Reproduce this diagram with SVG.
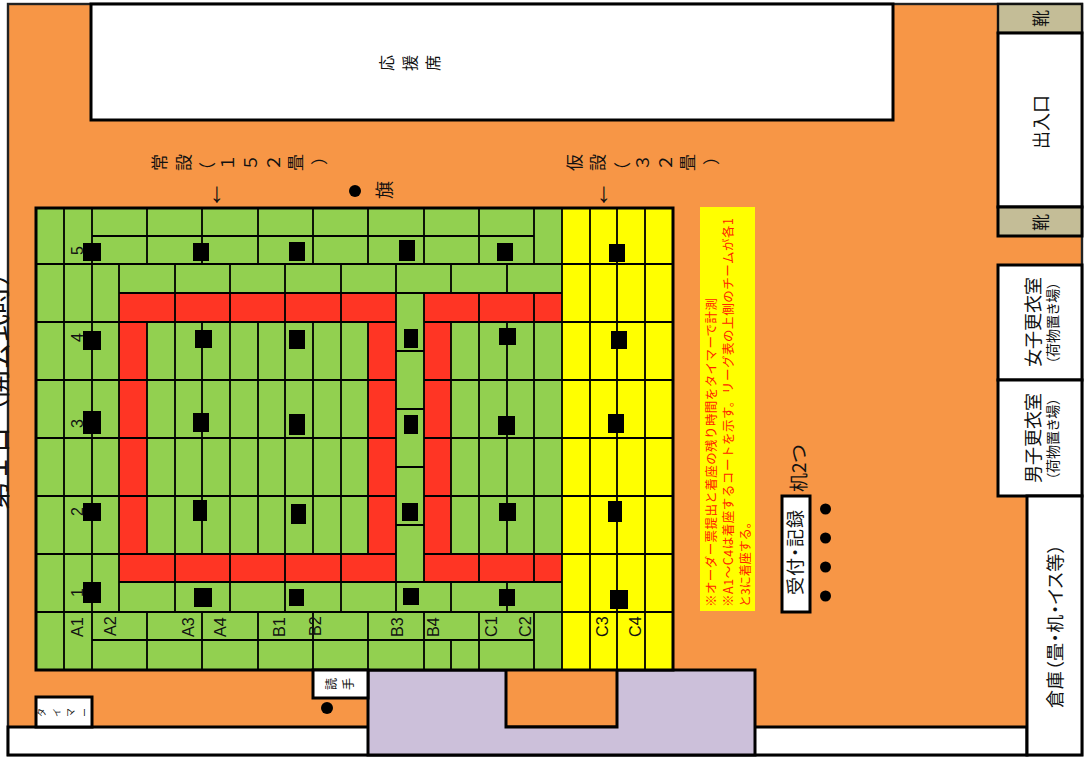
<svg xmlns="http://www.w3.org/2000/svg" width="1088" height="757" viewBox="0 0 1088 757">
<style>
text{font-family:"Noto Sans CJK JP","Noto Sans",sans-serif;fill:#111}
.lat{font-family:"Liberation Sans",Arial,sans-serif}
.p{font-feature-settings:"palt"}
.w{fill:#fff;stroke:#000;stroke-width:3}
.g{stroke:#000;stroke-width:1.8;fill:none}
.b{stroke:#000;stroke-width:3;fill:none}
.red{fill:#ff3524}
.note{fill:#ff2200;font-size:12.5px}
.sq{fill:#000}
</style>
<rect width="1088" height="757" fill="#fff"/>
<g id="floor">
<rect x="8" y="4" width="1074" height="751" fill="#f79646" stroke="#222" stroke-width="2.4"/>
</g>
<text id="title" transform="translate(7,510) rotate(-90)" font-size="28" textLength="252" lengthAdjust="spacing">第１日（開会式時）</text>
<g id="stand"><rect class="w" x="91" y="4" width="802" height="116"/>
<text transform="translate(393,71) rotate(-90)" font-size="16">応</text>
<text transform="translate(416,71) rotate(-90)" font-size="16">援</text>
<text transform="translate(439,71) rotate(-90)" font-size="16">席</text></g>
<g id="bottom-strip"><rect class="w" x="8" y="727" width="1019" height="28"/></g>
<g id="hall"><path d="M368 755V670H506V727H617V670H755V755Z" fill="#ccc0da" stroke="#000" stroke-width="3"/></g>
<g id="entrance">
<rect x="998" y="4" width="84" height="29" fill="#c4bd97" stroke="#111" stroke-width="2.4"/>
<rect class="w" x="998" y="33" width="84" height="174"/>
<rect x="998" y="207" width="84" height="29" fill="#c4bd97" stroke="#000" stroke-width="3"/>
<text transform="translate(1047,27) rotate(-90)" font-size="17">靴</text>
<text transform="translate(1047,231) rotate(-90)" font-size="17">靴</text>
<text transform="translate(1048,149) rotate(-90)" font-size="18">出入口</text>
</g>
<g id="room-women"><rect class="w" x="998" y="265" width="84" height="115"/>
<text transform="translate(1040,367) rotate(-90)" font-size="18">女子更衣室</text>
<text class="p" transform="translate(1058,364) rotate(-90)" font-size="14">（荷物置き場）</text></g>
<g id="room-men"><rect class="w" x="998" y="380" width="84" height="116"/>
<text transform="translate(1040,483) rotate(-90)" font-size="18">男子更衣室</text>
<text class="p" transform="translate(1058,480) rotate(-90)" font-size="14">（荷物置き場）</text></g>
<g id="storage"><rect class="w" x="1027" y="496" width="55" height="259"/>
<text class="p" transform="translate(1062,708) rotate(-90)" font-size="18" textLength="164" lengthAdjust="spacing">倉庫（畳・机・イス等）</text></g>
<g id="court">
<rect x="36" y="208" width="526" height="462" fill="#92d050"/>
<rect x="562" y="208" width="111" height="462" fill="#ffff00"/>
<path class="red" d="M119 293H396V582H119ZM147 322V554H368V322Z" fill-rule="evenodd"/>
<path class="red" d="M424 293H562V322H451V554H562V582H424Z"/>
<rect x="36" y="208" width="637" height="462" class="b"/>
<path class="g" d="M64 208V670M92 208V670M562 208V670M590 208V670M617 208V670M645 208V670
M147 208V264M202 208V264M258 208V264M313 208V264M368 208V264M424 208V264M479 208V264M534 208V264M92 236H534
M119 264V612M175 264V612M230 264V612M285 264V612M341 264V612M396 264V612
M451 264V293M507 264V293M424 293V582M479 293V582M534 293V582
M147 322V554M202 322V554M258 322V554M313 322V554M368 322V554M451 322V554M507 322V554
M451 582V612M507 582V612
M147 612V670M202 612V670M258 612V670M313 612V698M368 612V670M424 612V670M479 612V670M534 612V670M451 640V670M92 640H534
M36 264H673M119 293H562M36 322H396M424 322H673M36 380H396M424 380H673M36 438H396M424 438H673M36 496H396M424 496H673M36 554H396M424 554H673M119 582H562M36 612H673
M396 351H424M396 409H424M396 467H424M396 525H424"/>
</g>
<g id="seats">
<rect class="sq" x="83" y="243" width="18" height="18"/><rect class="sq" x="193" y="243" width="16" height="18"/><rect class="sq" x="289" y="242" width="16" height="19"/><rect class="sq" x="399" y="240" width="16" height="21"/><rect class="sq" x="497" y="243" width="16" height="18"/><rect class="sq" x="609" y="244" width="16" height="18"/>
<rect class="sq" x="83" y="331" width="18" height="19"/><rect class="sq" x="195" y="330" width="17" height="18"/><rect class="sq" x="289" y="330" width="16" height="19"/><rect class="sq" x="404" y="329" width="14" height="19"/><rect class="sq" x="499" y="328" width="17" height="17"/><rect class="sq" x="611" y="331" width="16" height="18"/>
<rect class="sq" x="83" y="411" width="18" height="23"/><rect class="sq" x="193" y="413" width="16" height="19"/><rect class="sq" x="289" y="414" width="16" height="21"/><rect class="sq" x="404" y="415" width="14" height="19"/><rect class="sq" x="498" y="416" width="17" height="19"/><rect class="sq" x="608" y="414" width="16" height="19"/>
<rect class="sq" x="83" y="503" width="18" height="18"/><rect class="sq" x="193" y="500" width="14" height="21"/><rect class="sq" x="291" y="504" width="15" height="20"/><rect class="sq" x="402" y="503" width="16" height="18"/><rect class="sq" x="499" y="503" width="17" height="18"/><rect class="sq" x="608" y="501" width="14" height="21"/>
<rect class="sq" x="83" y="582" width="18" height="21"/><rect class="sq" x="194" y="588" width="18" height="19"/><rect class="sq" x="289" y="589" width="15" height="17"/><rect class="sq" x="403" y="588" width="16" height="17"/><rect class="sq" x="499" y="589" width="16" height="17"/><rect class="sq" x="610" y="590" width="18" height="19"/>
</g>
<g id="court-labels">
<text class="lat" font-size="17" transform="translate(83,637) rotate(-90) scale(.95,1)">A1</text>
<text class="lat" font-size="17" transform="translate(116,636) rotate(-90) scale(.95,1)">A2</text>
<text class="lat" font-size="17" transform="translate(194,637) rotate(-90) scale(.95,1)">A3</text>
<text class="lat" font-size="17" transform="translate(226,637) rotate(-90) scale(.95,1)">A4</text>
<text class="lat" font-size="17" transform="translate(285,637) rotate(-90) scale(.95,1)">B1</text>
<text class="lat" font-size="17" transform="translate(321,636) rotate(-90) scale(.95,1)">B2</text>
<text class="lat" font-size="17" transform="translate(403,637) rotate(-90) scale(.95,1)">B3</text>
<text class="lat" font-size="17" transform="translate(439,637) rotate(-90) scale(.95,1)">B4</text>
<text class="lat" font-size="17" transform="translate(497,637) rotate(-90) scale(.95,1)">C1</text>
<text class="lat" font-size="17" transform="translate(531,637) rotate(-90) scale(.95,1)">C2</text>
<text class="lat" font-size="17" transform="translate(608,637) rotate(-90) scale(.95,1)">C3</text>
<text class="lat" font-size="17" transform="translate(641,637) rotate(-90) scale(.95,1)">C4</text>
<text class="lat" font-size="16" transform="translate(83,255) rotate(-90)">5</text>
<text class="lat" font-size="16" transform="translate(83,342) rotate(-90)">4</text>
<text class="lat" font-size="16" transform="translate(83,428) rotate(-90)">3</text>
<text class="lat" font-size="16" transform="translate(83,516) rotate(-90)">2</text>
<text class="lat" font-size="16" transform="translate(83,597) rotate(-90)">1</text>
</g>
<g id="permanent"><text transform="translate(166,171) rotate(-90)" font-size="17">常</text><text transform="translate(190,171) rotate(-90)" font-size="17">設</text><text transform="translate(214,179) rotate(-90)" font-size="17">（</text><text transform="translate(234,171) rotate(-90)" font-size="17">１</text><text transform="translate(257,171) rotate(-90)" font-size="17">５</text><text transform="translate(280,171) rotate(-90)" font-size="17">２</text><text transform="translate(302,171) rotate(-90)" font-size="17">畳</text><text transform="translate(326,165) rotate(-90)" font-size="17">）</text>
<text x="217" y="202" font-size="28" text-anchor="middle" class="lat">↓</text></g>
<g id="temporary"><text transform="translate(581,171) rotate(-90)" font-size="17">仮</text><text transform="translate(604,171) rotate(-90)" font-size="17">設</text><text transform="translate(629,179) rotate(-90)" font-size="17">（</text><text transform="translate(649,171) rotate(-90)" font-size="17">３</text><text transform="translate(672,171) rotate(-90)" font-size="17">２</text><text transform="translate(694,171) rotate(-90)" font-size="17">畳</text><text transform="translate(718,165) rotate(-90)" font-size="17">）</text>
<text x="604" y="202" font-size="28" text-anchor="middle" class="lat">↓</text></g>
<g id="flag"><circle cx="355" cy="191" r="6" fill="#000"/><text transform="translate(391,199) rotate(-90)" font-size="18">旗</text></g>
<g id="note"><rect x="700" y="207" width="55" height="404" fill="#ffff00"/>
<text class="note" transform="translate(716,607) rotate(-90)" textLength="309" lengthAdjust="spacing">※オーダー票提出と着座の残り時間をタイマーで計測</text>
<text class="note" transform="translate(733,607) rotate(-90)" textLength="389" lengthAdjust="spacing">※A1～C4は着座するコートを示す。リーグ表の上側のチームが各1</text>
<text class="note" transform="translate(750,607) rotate(-90)" style="font-size:12px">と3に着座する。</text></g>
<g id="reception"><rect class="w" x="782" y="496" width="28" height="116"/>
<text class="p" transform="translate(802,595) rotate(-90)" font-size="18" textLength="85" lengthAdjust="spacing">受付・記録</text>
<text class="p" transform="translate(806,492) rotate(-90)" font-size="19">机2つ</text>
<circle cx="825.500" cy="509" r="5.500" fill="#000"/><circle cx="825.500" cy="538" r="5.500" fill="#000"/><circle cx="825.500" cy="567" r="5.500" fill="#000"/><circle cx="825.500" cy="596" r="5.500" fill="#000"/></g>
<g id="reader"><rect class="w" x="313" y="670" width="55" height="28"/>
<text transform="translate(336,690) rotate(-90)" font-size="12">読</text><text transform="translate(353,690) rotate(-90)" font-size="12">手</text>
<circle cx="327" cy="708" r="6" fill="#000"/></g>
<g id="timer"><rect class="w" x="36" y="697" width="56" height="30"/>
<text transform="translate(45,717) rotate(-90)" font-size="9">タ</text><text transform="translate(60,717) rotate(-90)" font-size="9">イ</text><text transform="translate(74,717) rotate(-90)" font-size="9">マ</text><text transform="translate(88,717) rotate(-90)" font-size="9">ー</text></g>
</svg>
